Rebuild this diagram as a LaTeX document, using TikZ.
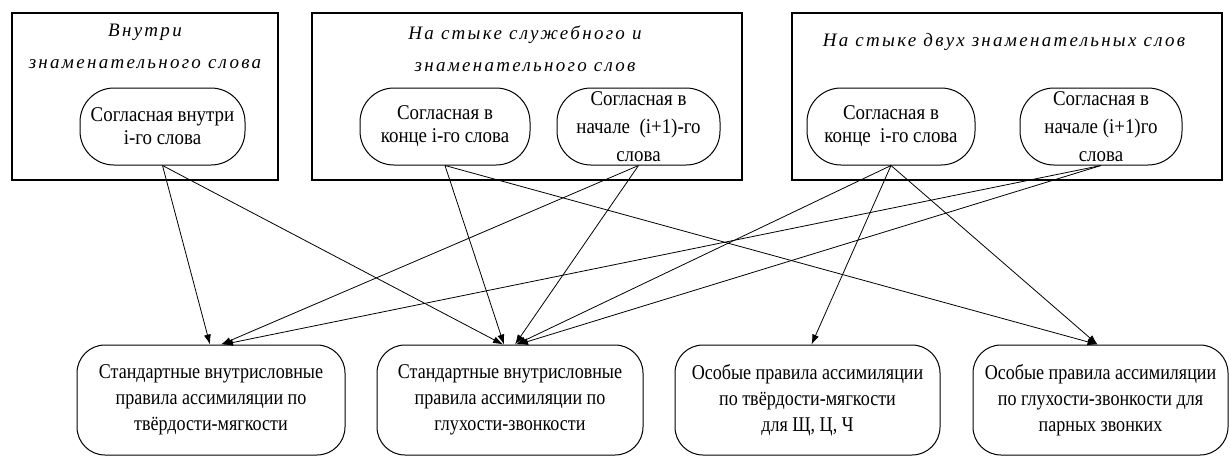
\documentclass[tikz,border=0pt]{standalone}
\usepackage{fontspec}
\setmainfont{Liberation Serif}
\newfontfamily\headfont[LetterSpace=12]{Liberation Serif}
\newfontfamily\condfont[FakeStretch=0.86]{Liberation Serif}
\newfontfamily\ovalfont[FakeStretch=0.9]{Liberation Serif}
\usetikzlibrary{arrows.meta}
\begin{document}
\begin{tikzpicture}[x=1pt,y=-1pt,
  frame/.style={draw,line width=1.2pt,inner sep=0pt,anchor=center},
  head/.style={font=\headfont\itshape\fontsize{19}{32}\selectfont,align=center,inner sep=0pt},
  oval/.style={draw,line width=1pt,rounded corners=34pt,minimum height=77pt,inner sep=0pt,
    align=center,font=\ovalfont\fontsize{21}{23}\selectfont},
  tall/.style={font=\ovalfont\fontsize{21}{28}\selectfont},
  rule/.style={draw,line width=1pt,rounded corners=28pt,minimum height=110pt,inner sep=0pt,
    align=center,font=\condfont\fontsize{21}{26}\selectfont},
  link/.style={line width=0.8pt,-{Latex[length=10pt,width=7pt]}}]
\useasboundingbox (0,0) rectangle (1231,459);

% three context frames
\node[frame,minimum width=266pt,minimum height=167pt] (f1) at (145,96.5) {};
\node[frame,minimum width=430pt,minimum height=167pt] (f2) at (527,96.5) {};
\node[frame,minimum width=430pt,minimum height=167pt] (f3) at (1007,96.5) {};

\node[head] (h1) at (145,46) {Внутри\\знаменательного слова};
\node[head] (h2) at (525,49) {На стыке служебного и\\знаменательного слов};
\node[head] (h3) at (1004,42) {На стыке двух знаменательных слов};

% consonant positions
\node[oval,minimum width=165pt] (o1) at (162.5,126.5) {Согласная внутри\\i-го слова};
\node[oval,minimum width=170pt] (o2) at (445,126.5) {Согласная в\\конце i-го слова};
\node[oval,tall,minimum width=163pt] (o3) at (638.5,126.5) {Согласная в\\начале\ \ (i+1)-го\\слова};
\node[oval,minimum width=168pt] (o4) at (891,126.5) {Согласная в\\конце\ \ i-го слова};
\node[oval,tall,minimum width=162pt] (o5) at (1101,126.5) {Согласная в\\начале (i+1)го\\слова};

% assimilation rules
\node[rule,minimum width=268pt] (ra) at (211,400) {Стандартные внутрисловные\\правила ассимиляции по\\твёрдости-мягкости};
\node[rule,minimum width=266pt] (rb) at (510,400) {Стандартные внутрисловные\\правила ассимиляции по\\глухости-звонкости};
\node[rule,minimum width=265pt] (rc) at (807.5,400) {Особые правила ассимиляции\\по твёрдости-мягкости\\для Щ, Ц, Ч};
\node[rule,minimum width=255pt] (rd) at (1100.5,400) {Особые правила ассимиляции\\по глухости-звонкости для\\парных звонких};

% links
\draw[link] (o1.south) -- ([xshift=-1pt]ra.north);
\draw[link] (o1.south) -- ([xshift=-7pt]rb.north);
\draw[link] (o2.south) -- ([xshift=-6pt]rb.north);
\draw[link] (o2.south) -- ([xshift=-3pt]rd.north);
\draw[link] (o3.south) -- ([xshift=10pt]ra.north);
\draw[link] (o3.south) -- ([xshift=5pt]rb.north);
\draw[link] (o4.south) -- ([xshift=6pt]rb.north);
\draw[link] (o4.south) -- ([xshift=4pt]rc.north);
\draw[link] (o4.south) -- ([xshift=-3pt]rd.north);
\draw[link] (o5.south) -- ([xshift=12pt]ra.north);
\draw[link] (o5.south) -- ([xshift=8pt]rb.north);
\end{tikzpicture}
\end{document}
